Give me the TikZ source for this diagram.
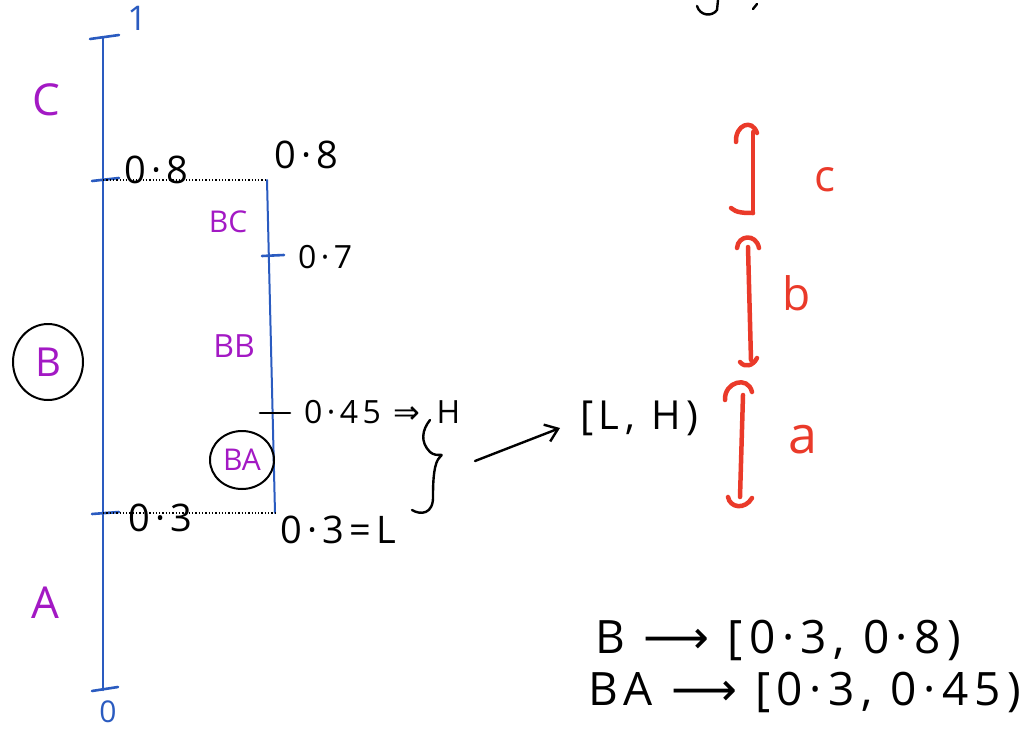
\documentclass[tikz,border=0pt]{standalone}
\usepackage{fontspec}
\setmainfont{Open Sans}
\newfontfamily\arrowfont{DejaVu Sans}
\usetikzlibrary{arrows.meta,shapes.geometric}
\definecolor{axisblue}{HTML}{2A5BC0}
\definecolor{lblpurple}{HTML}{A319C4}
\definecolor{penred}{HTML}{EA3A2A}
\newcommand{\wide}{\addfontfeatures{LetterSpace=14}}
\tikzset{
  axisline/.style={axisblue, line width=2.6pt, line cap=round},
  tickmark/.style={axisblue, line width=2.6pt, line cap=round},
  guide/.style={black, line width=1.3pt, dotted},
  numlbl/.style={inner sep=0pt, anchor=west, font=\fontsize{38}{38}\selectfont\wide},
  smallnum/.style={inner sep=0pt, anchor=west, font=\fontsize{32}{32}\selectfont\wide},
  seglbl/.style={inner sep=0pt, text=lblpurple, font=\fontsize{36}{36}\selectfont},
  circled/.style={draw=black, ellipse, line width=2pt},
  redpen/.style={penred, line width=4.5pt, line cap=round, line join=round},
  redlbl/.style={inner sep=0pt, text=penred, font=\fontsize{48}{48}\selectfont},
  pen/.style={black, line width=2.4pt, line cap=round, line join=round},
  bigtxt/.style={inner sep=0pt, anchor=west, font=\fontsize{46}{46}\selectfont\wide},
}
\begin{document}
\begin{tikzpicture}[x=1pt,y=-1pt]
\useasboundingbox (0,0) rectangle (1036,733);
% main axis
\coordinate (t1) at (103,38);
\coordinate (t08) at (103,180);
\coordinate (t03) at (103,513);
\coordinate (t0) at (103,690);
\draw[axisline] (t1) -- (t0);
\draw[tickmark] (t1) ++(-13,1) -- ++(29,-4);
\draw[tickmark] (t08) ++(-11,1) -- ++(27,-3);
\draw[tickmark] (t03) ++(-11,1) -- ++(27,-2);
\draw[tickmark] (t0) ++(-11,1) -- ++(26,-4);
\node[inner sep=0pt, text=axisblue, font=\fontsize{34}{34}\selectfont] (one) at (137,18) {1};
\node[inner sep=0pt, text=axisblue, font=\fontsize{30}{30}\selectfont] (zero) at (108,712) {0};
% sub axis
\coordinate (s08) at (267,180);
\coordinate (s07) at (269,255);
\coordinate (s045) at (272,413);
\coordinate (s03) at (275,513);
\draw[axisline, line width=2pt] (s08) -- (s03);
\draw[tickmark] (s07) ++(-7,1) -- ++(22,-1);
\draw[tickmark, black] (s045) ++(-12,0) -- ++(30,0);
% dotted guides
\draw[guide] (t08) -- (s08);
\draw[guide] (t03) -- (s03);
% numbers
\node[numlbl] (n08a) at (124,170) {0·8};
\node[numlbl] (n08b) at (274,155) {0·8};
\node[smallnum] (n07) at (298,257) {0·7};
\node[smallnum] (n045) at (304,412) {0·45 {\arrowfont⇒}\hspace{16pt}H};
\node[numlbl] (n03a) at (128,518) {0·3};
\node[numlbl] (n03b) at (280,530) {0·3=L};
% purple segment labels
\node[seglbl, font=\fontsize{44}{44}\selectfont] (C) at (46,100) {C};
\node[seglbl, font=\fontsize{30}{30}\selectfont] (BC) at (228,222) {BC};
\node[seglbl, font=\fontsize{32}{32}\selectfont] (BB) at (234,346) {BB};
\node[seglbl, font=\fontsize{40}{40}\selectfont, circled, inner sep=4pt, minimum width=70pt, minimum height=76pt] (B) at (48,362) {B};
\node[seglbl, font=\fontsize{30}{30}\selectfont, circled, inner sep=2pt, minimum width=64pt, minimum height=58pt] (BA) at (242,460) {BA};
\node[seglbl, font=\fontsize{44}{44}\selectfont] (A) at (45,603) {A};
% brace and arrow
\coordinate (bt) at (430,420);
\coordinate (bm) at (440,457);
\coordinate (bb) at (412,510);
\draw[pen] (bt) .. controls (422,430) and (420,442) .. (430,452)
  .. controls (437,458) and (445,452) .. (bm)
  .. controls (434,462) and (433,480) .. (433,495)
  .. controls (434,515) and (420,515) .. (bb);
\node[bigtxt, font=\fontsize{40}{40}\selectfont\wide] (LH) at (580,418) {[L, H)};
\coordinate (arrS) at (475,461);
\coordinate (arrE) at (560,428);
\draw[pen, -{Straight Barb[length=12pt,width=18pt,line width=2.4pt]}] (arrS) -- (arrE);
% red brackets
\coordinate (cT) at (753,132);
\coordinate (cB) at (753,213);
\draw[redpen] (736,142) .. controls (735,125) and (752,118) .. (757,133);
\draw[redpen] (cT) -- (cB);
\draw[redpen] (731,208) .. controls (736,213) and (745,213) .. (cB);
\node[redlbl, font=\fontsize{44}{44}\selectfont] (c) at (825,180) {c};
\coordinate (bT) at (748,247);
\coordinate (bB) at (751,360);
\draw[redpen] (737,248) .. controls (738,235) and (756,233) .. (759,248);
\draw[redpen] (bT) -- (bB);
\draw[redpen] (740,362) .. controls (745,368) and (753,366) .. (757,358);
\node[redlbl, font=\fontsize{46}{46}\selectfont] (b) at (797,293) {b};
\coordinate (aT) at (743,395);
\coordinate (aB) at (740,497);
\draw[redpen] (725,400) .. controls (724,382) and (748,375) .. (752,392);
\draw[redpen] (aT) -- (aB);
\draw[redpen] (728,497) .. controls (730,508) and (745,510) .. (752,498);
\node[redlbl, font=\fontsize{52}{52}\selectfont] (a) at (803,440) {a};
% bottom formulas
\node[bigtxt] (f1) at (595,640) {B {\arrowfont⟶} [0·3, 0·8)};
\node[bigtxt] (f2) at (588,692) {BA {\arrowfont⟶} [0·3, 0·45)};
% cut-off glyph at the top
\draw[pen] (697,6) .. controls (700,16) and (712,17) .. (717,10) -- (718,0);
\draw[pen] (757,4) -- (753,9);
\end{tikzpicture}
\end{document}
